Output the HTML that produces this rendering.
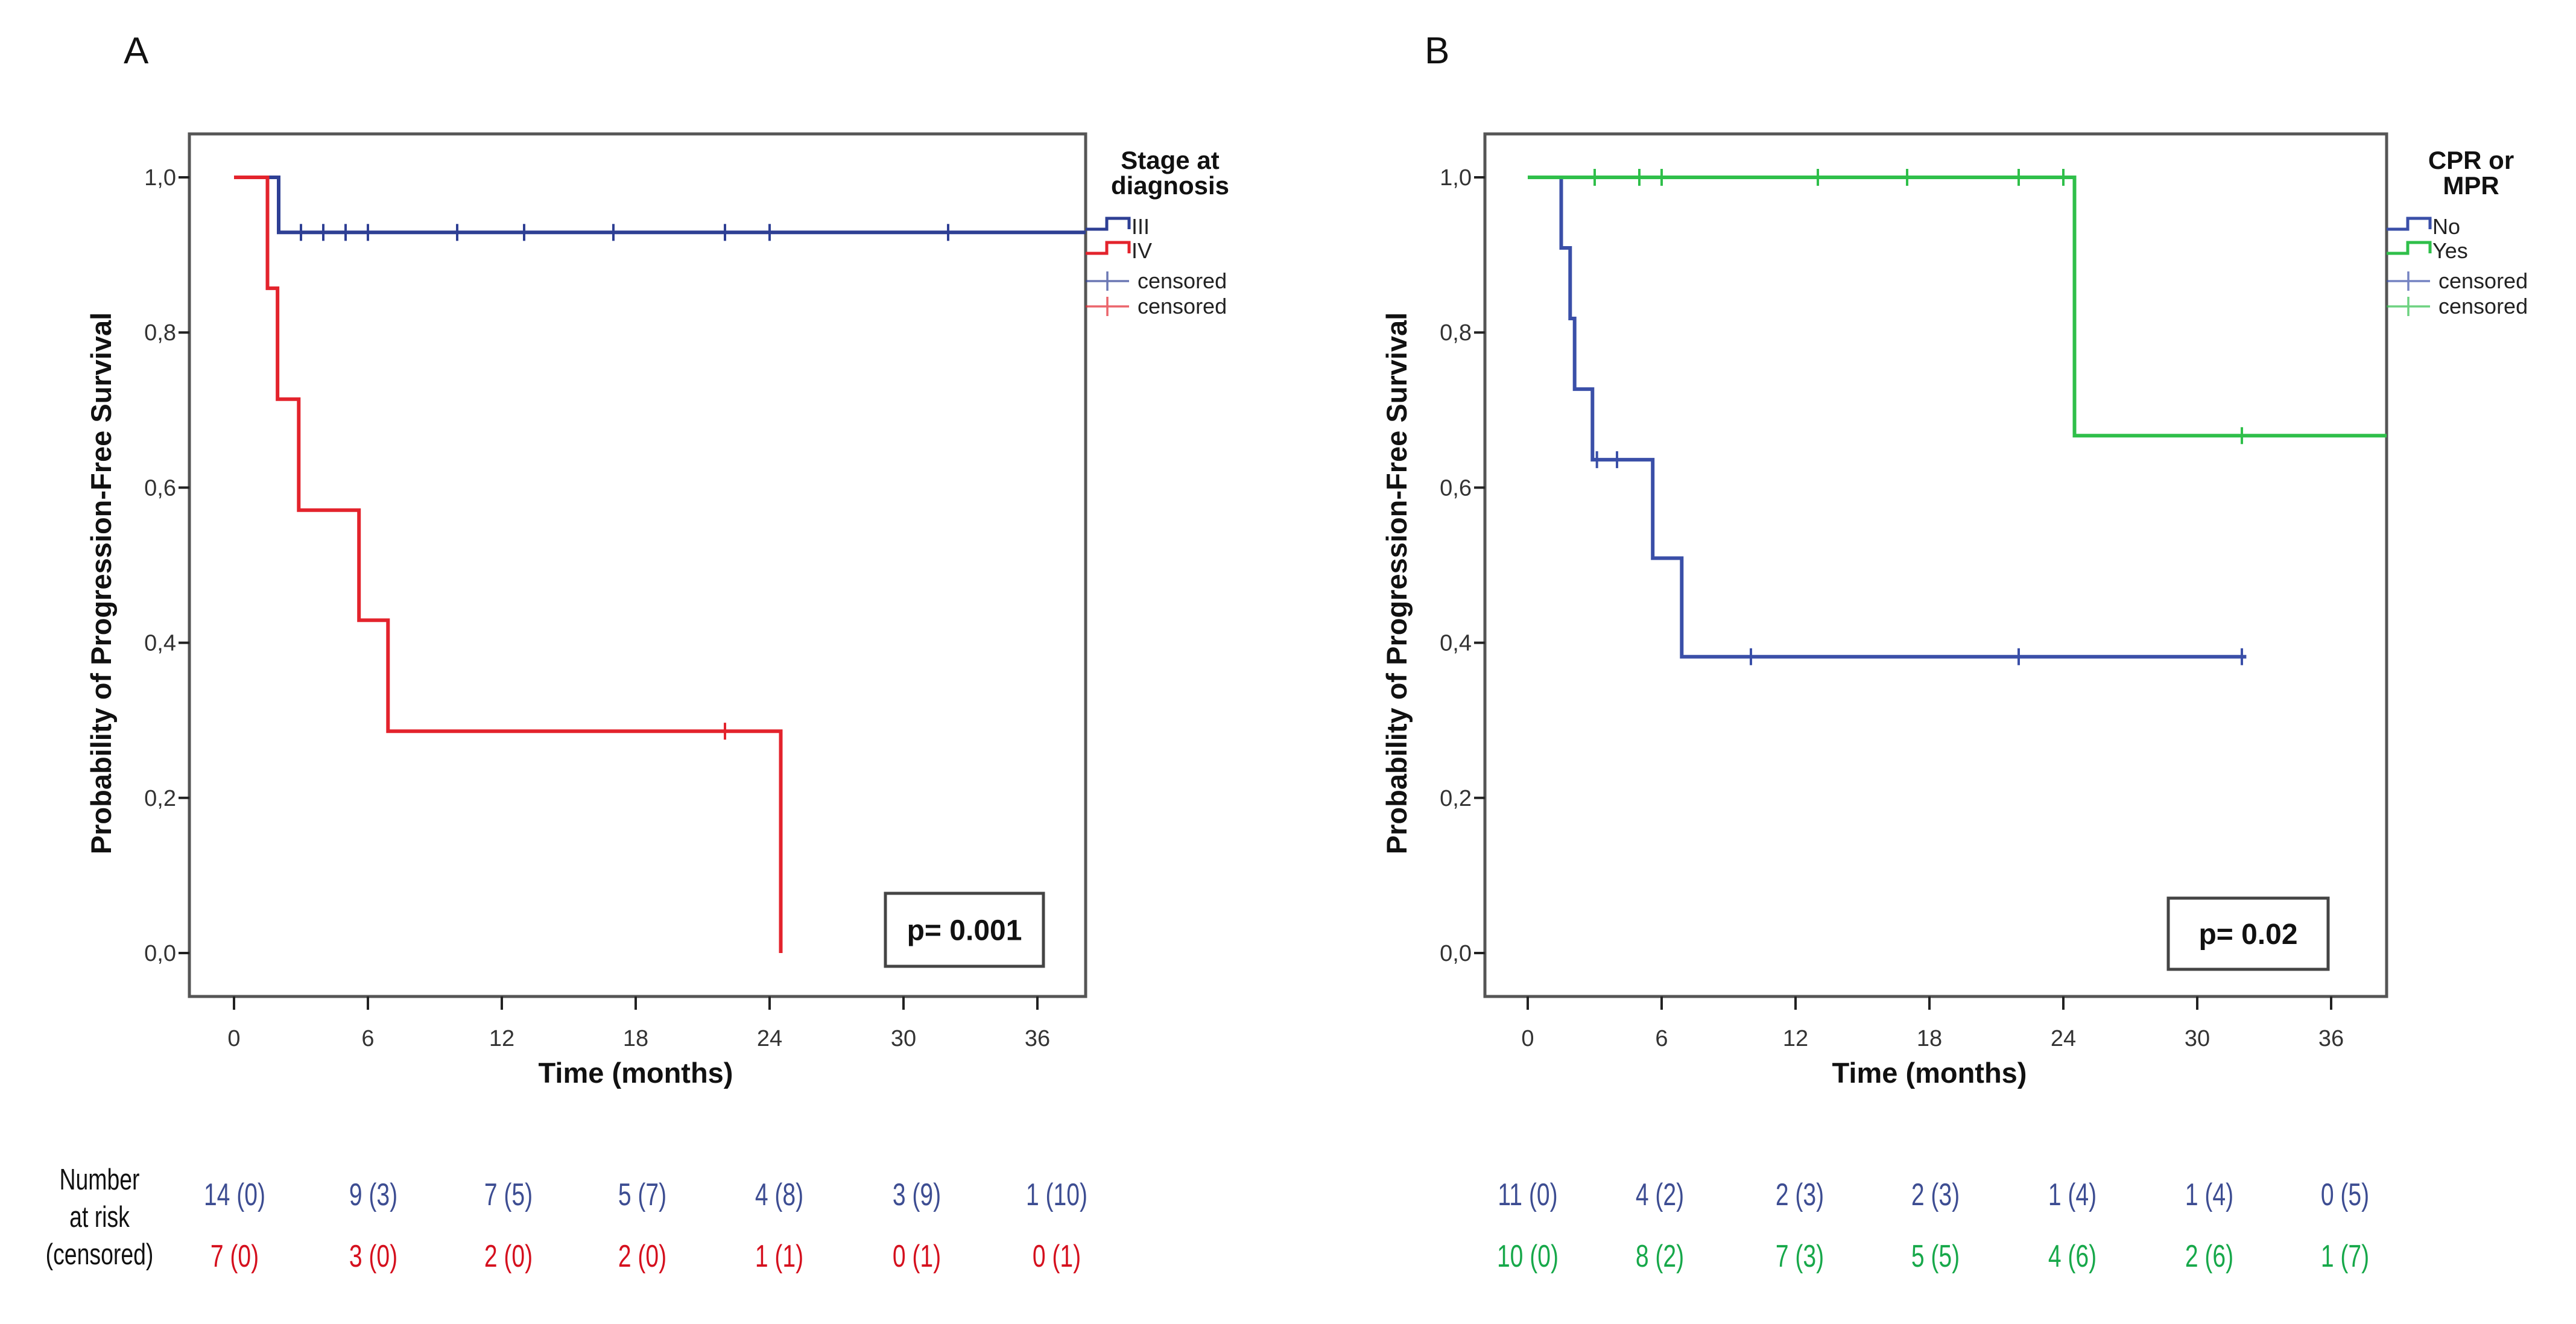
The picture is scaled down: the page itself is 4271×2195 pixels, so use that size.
<!DOCTYPE html>
<html><head><meta charset="utf-8">
<style>
html,body{margin:0;padding:0;background:#fff;}
svg{display:block;font-family:"Liberation Sans",sans-serif;}
</style></head>
<body>
<svg id="fig" width="4271" height="2195" viewBox="0 0 4271 2195" xmlns="http://www.w3.org/2000/svg"></svg>
<script>
// ---- Data ----
const xTicks = [0, 6, 12, 18, 24, 30, 36];
const yTicks = [0, 0.2, 0.4, 0.6, 0.8, 1.0];
// Panel A
const stepsA_III_t = [0, 2.0];
const stepsA_III_s = [1.0, 0.929];
const censA_III = [3, 4, 5, 6, 10, 13, 17, 22, 24, 32];
const endA_III = 38.5;
const stepsA_IV_t = [0, 1.5, 1.95, 2.9, 5.6, 6.9, 24.5];
const stepsA_IV_s = [1.0, 0.857, 0.714, 0.571, 0.429, 0.286, 0.0];
const censA_IV = [22];
const endA_IV = 24.5;
const riskA_III = ["14 (0)", "9 (3)", "7 (5)", "5 (7)", "4 (8)", "3 (9)", "1 (10)"];
const riskA_IV = ["7 (0)", "3 (0)", "2 (0)", "2 (0)", "1 (1)", "0 (1)", "0 (1)"];
// Panel B
const stepsB_No_t = [0, 1.5, 1.9, 2.1, 2.9, 5.6, 6.9];
const stepsB_No_s = [1.0, 0.909, 0.818, 0.727, 0.636, 0.509, 0.382];
const censB_No = [3.1, 4, 10, 22, 32];
const endB_No = 32.2;
const stepsB_Yes_t = [0, 24.5];
const stepsB_Yes_s = [1.0, 0.667];
const censB_Yes = [3, 5, 6, 13, 17, 22, 24, 32];
const endB_Yes = 38.5;
const riskB_No = ["11 (0)", "4 (2)", "2 (3)", "2 (3)", "1 (4)", "1 (4)", "0 (5)"];
const riskB_Yes = ["10 (0)", "8 (2)", "7 (3)", "5 (5)", "4 (6)", "2 (6)", "1 (7)"];

const NS = "http://www.w3.org/2000/svg";
const svg = document.getElementById("fig");
function el(tag, attrs, parent, text) {
  const e = document.createElementNS(NS, tag);
  for (const k in attrs) e.setAttribute(k, attrs[k]);
  if (text !== undefined) e.textContent = text;
  (parent || svg).appendChild(e);
  return e;
}

function panel(cfg) {
  const g = el("g", {});
  
  
  const L = cfg.left, R = cfg.right, T = 222, B = 1652;
  const x0 = cfg.x0, pxPerMonth = 37;
  const xs = t => x0 + t * pxPerMonth;
  const ys = s => 1580 - s * 1286;
  const clipX = t => Math.min(xs(t), R);

  const lt = el("text", {x: cfg.letterX, y: 105, "font-size": 62, fill: "#111"}, g, cfg.letter);
  
  

  const fr = el("rect", {x: L, y: T, width: R - L, height: B - T, fill: "#fff", stroke: "#555", "stroke-width": 5}, g);
  
  

  yTicks.forEach(v => {
    const tk = el("line", {x1: L - 18, x2: L, y1: ys(v), y2: ys(v), stroke: "#222", "stroke-width": 4}, g);
    
    
    const lb = el("text", {x: L - 22, y: ys(v) + 13, "font-size": 38, fill: "#333", "text-anchor": "end"}, g, v.toFixed(1).replace(".", ","));
    
    
  });
  xTicks.forEach(v => {
    const tk = el("line", {x1: xs(v), x2: xs(v), y1: B, y2: B + 22, stroke: "#222", "stroke-width": 4}, g);
    
    
    const lb = el("text", {x: xs(v), y: B + 82, "font-size": 38, fill: "#333", "text-anchor": "middle"}, g, String(v));
    
    
  });
  const yt = el("text", {x: 0, y: 0, "font-size": 47, "font-weight": "bold", fill: "#111", "text-anchor": "middle",
    transform: `translate(${L - 130},${(T + B) / 2 + 30}) rotate(-90)`}, g, "Probability of Progression-Free Survival");
  
  
  const xt = el("text", {x: xs(18), y: 1795, "font-size": 47, "font-weight": "bold", fill: "#111", "text-anchor": "middle"}, g, "Time (months)");
  
  

  cfg.series.forEach(s => {
    let d = `M${xs(s.t[0])},${ys(s.s[0])}`;
    for (let i = 1; i < s.t.length; i++) {
      d += ` H${clipX(s.t[i])} V${ys(s.s[i])}`;
    }
    d += ` H${clipX(s.end)}`;
    const p = el("path", {d, fill: "none", stroke: s.color, "stroke-width": 6}, g);
    
    
    s.cens.forEach(c => {
      let sv = s.s[0];
      for (let i = 0; i < s.t.length; i++) if (s.t[i] <= c) sv = s.s[i];
      const m = el("line", {x1: xs(c), x2: xs(c), y1: ys(sv) - 14, y2: ys(sv) + 14, stroke: s.color, "stroke-width": 4}, g);
      
      
    });
  });

  const pb = el("rect", {x: cfg.pbox[0], y: cfg.pbox[1], width: cfg.pbox[2], height: cfg.pbox[3], fill: "#fff", stroke: "#444", "stroke-width": 5}, g);
  
  
  const pt = el("text", {x: cfg.pbox[0] + cfg.pbox[2] / 2, y: cfg.pbox[1] + cfg.pbox[3] / 2 + 17, "font-size": 48, "font-weight": "bold", fill: "#111", "text-anchor": "middle"}, g, cfg.ptext);
  
  

  const lx = R;
  const lc = lx + 140;
  cfg.legendTitle.forEach((line, i) => {
    const t = el("text", {x: lc, y: 280 + i * 42, "font-size": 42, "font-weight": "bold", fill: "#111", "text-anchor": "middle"}, g, line);
    
    
  });
  cfg.series.forEach((s, i) => {
    const y = 380 + i * 40;
    const ic = el("path", {d: `M${lx},${y} H${lx + 35} V${y - 18} H${lx + 72} V${y}`, fill: "none", stroke: s.color, "stroke-width": 5}, g);
    
    
    const t = el("text", {x: lx + 76, y: y + 8, "font-size": 36, fill: "#222"}, g, s.label);
    
    
  });
  cfg.series.forEach((s, i) => {
    const y = 466 + i * 42;
    const ic = el("path", {d: `M${lx},${y} H${lx + 72} M${lx + 36},${y - 16} V${y + 16}`, fill: "none", stroke: s.color, "stroke-width": 3.5, opacity: 0.7}, g);
    
    
    const t = el("text", {x: lx + 86, y: y + 12, "font-size": 36, fill: "#222"}, g, "censored");
    
    
  });

  cfg.riskCols.forEach((cx, i) => {
    const a = el("text", {x: 0, y: 0, "font-size": 46, fill: cfg.series[0].riskColor, "text-anchor": "middle",
      transform: `translate(${cx},1998) scale(0.85,1.12)`}, g, cfg.risk[0][i]);
    
    
    const b = el("text", {x: 0, y: 0, "font-size": 46, fill: cfg.series[1].riskColor, "text-anchor": "middle",
      transform: `translate(${cx},2100) scale(0.85,1.12)`}, g, cfg.risk[1][i]);
    
    
  });
}

panel({
  name: "panel-a", letter: "A", letterX: 205, left: 314, right: 1800, x0: 388,
  ptext: "p= 0.001", pbox: [1468, 1481, 262, 121],
  legendTitle: ["Stage at", "diagnosis"],
  series: [
    {name: "stage-iii", label: "III", color: "#2e3f94", riskColor: "#3d4d92", t: stepsA_III_t, s: stepsA_III_s, cens: censA_III, end: endA_III},
    {name: "stage-iv", label: "IV", color: "#e3232c", riskColor: "#d5101e", t: stepsA_IV_t, s: stepsA_IV_s, cens: censA_IV, end: endA_IV}
  ],
  riskCols: [389, 619, 843, 1065, 1292, 1520, 1752],
  risk: [riskA_III, riskA_IV]
});
panel({
  name: "panel-b", letter: "B", letterX: 2362, left: 2462, right: 3957, x0: 2533,
  ptext: "p= 0.02", pbox: [3595, 1489, 265, 118],
  legendTitle: ["CPR or", "MPR"],
  series: [
    {name: "no-response", label: "No", color: "#3a4fa8", riskColor: "#3d4d92", t: stepsB_No_t, s: stepsB_No_s, cens: censB_No, end: endB_No},
    {name: "yes-response", label: "Yes", color: "#2fbf4a", riskColor: "#17a84a", t: stepsB_Yes_t, s: stepsB_Yes_s, cens: censB_Yes, end: endB_Yes}
  ],
  riskCols: [2533, 2752, 2984, 3209, 3436, 3663, 3888],
  risk: [riskB_No, riskB_Yes]
});

["Number", "at risk", "(censored)"].forEach((w, i) => {
  const t = el("text", {x: 0, y: 0, "font-size": 44, fill: "#111", "text-anchor": "middle",
    transform: `translate(165,${1972 + i * 62}) scale(0.85,1.12)`}, svg, w);
  
  
});
</script>
</body></html>
